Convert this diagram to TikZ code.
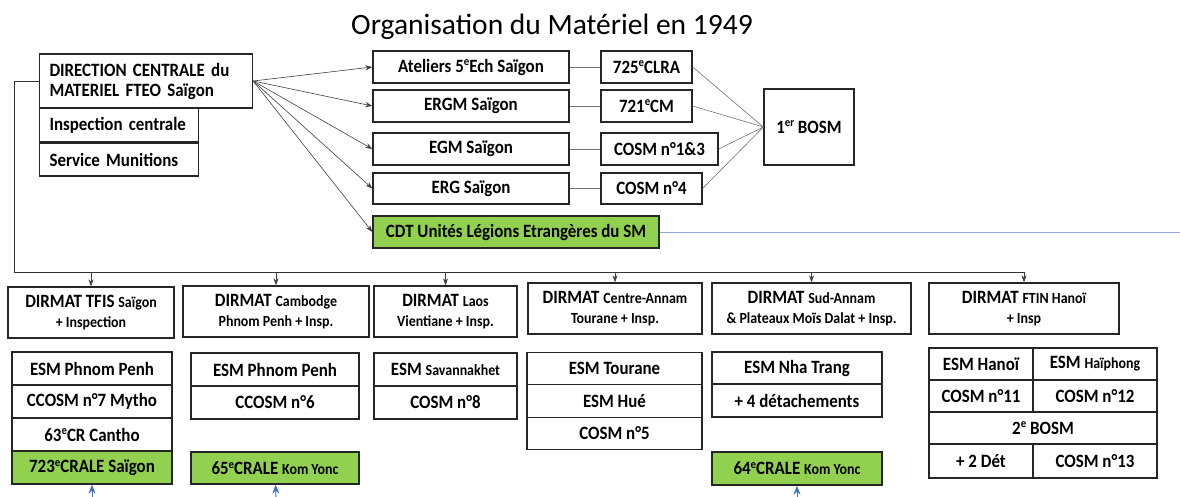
\documentclass[tikz,border=0pt]{standalone}
\usepackage{fontspec}
\setmainfont{Carlito}
\newfontfamily\boxfont[FakeStretch=0.9]{Carlito}
\usetikzlibrary{arrows.meta}
\definecolor{legiongreen}{HTML}{92D050}
\definecolor{legionline}{HTML}{8FAADC}
\definecolor{upblue}{HTML}{4472C4}
\newcommand{\petit}[1]{{\fontsize{15.5}{17}\selectfont #1}}
\newcommand{\expo}[1]{\raisebox{0.33em}{\fontsize{12}{12}\selectfont #1}}
\tikzset{box/.style={draw=black!85, line width=1.3pt, inner sep=0pt, align=center,
                     font=\boxfont\bfseries\fontsize{18.8}{20}\selectfont},
         crale/.style={box, fill=legiongreen},
         wh/.style 2 args={minimum width=#1, minimum height=#2},
         feed/.style={draw=black!75, line width=0.6pt, -{Stealth[length=7pt,width=5pt]}},
         link/.style={draw=black!55, line width=0.6pt},
         upfeed/.style={draw=upblue, line width=1pt, -{Stealth[length=9pt,width=7pt]}}}

\begin{document}
\begin{tikzpicture}[x=1pt,y=-1pt]
   \useasboundingbox (0,0) rectangle (1180,497);
   \node[anchor=base, font=\fontsize{29.5}{32}\selectfont] (title) at (552,35) {Organisation du Matériel en 1949};

   % direction centrale
   \node[box, wh={213}{54}, text width=193, inner xsep=10, align=left] (dcm) at (146,81) {DIRECTION CENTRALE du\\MATERIEL FTEO Saïgon};
   \node[box, wh={159}{34}, text width=139, inner xsep=10, align=left] (insp) at (119,125) {Inspection centrale};
   \node[box, wh={159}{33}, text width=139, inner xsep=10, align=left] (mun) at (119,159.5) {Service Munitions};

   % etablissements de Saigon
   \node[box, wh={196}{32}] (atel) at (471,67) {Ateliers 5\expo{e}Ech Saïgon};
   \node[box, wh={196}{32}] (ergm) at (471,106) {ERGM Saïgon};
   \node[box, wh={196}{32}] (egm) at (471,149) {EGM Saïgon};
   \node[box, wh={196}{31}] (erg) at (471,188.5) {ERG Saïgon};
   \node[crale, wh={286}{32}] (cdt) at (516,232) {CDT Unités Légions Etrangères du SM};
   \node[box, wh={91}{32}] (clra) at (646.5,67) {725\expo{e}CLRA};
   \node[box, wh={91}{32}] (cm) at (646.5,106) {721\expo{e}CM};
   \node[box, wh={117}{32}] (cosmA) at (659.5,149) {COSM n°1\&3};
   \node[box, wh={101}{31}] (cosmB) at (651.5,188.5) {COSM n°4};
   \node[box, wh={90}{76}] (bosm) at (809,127) {1\expo{er} BOSM};

   \foreach \n in {atel,ergm,egm,erg,cdt}
     \draw[feed] (dcm.east) -- (\n.west);
   \draw[link] (atel) -- (clra);
   \draw[link] (ergm) -- (cm);
   \draw[link] (egm) -- (cosmA);
   \draw[link] (erg) -- (cosmB);
   \foreach \n in {clra,cm,cosmA,cosmB}
     \draw[link] (\n.east) -- (bosm.west);
   \coordinate (edge) at (1180,232);
   \draw[legionline, line width=0.8pt] (cdt) -- (edge);

   % directions territoriales
   \node[box, wh={166}{51}] (tfis) at (91,312.5) {DIRMAT TFIS \petit{Saïgon}\\\petit{+ Inspection}};
   \node[box, wh={186}{51}] (camb) at (276,311.5) {DIRMAT \petit{Cambodge}\\\petit{Phnom Penh + Insp.}};
   \node[box, wh={143}{51}] (laos) at (445.5,311.5) {DIRMAT \petit{Laos}\\\petit{Vientiane + Insp.}};
   \node[box, wh={174}{51}] (centre) at (615,308.5) {DIRMAT \petit{Centre-Annam}\\\petit{Tourane + Insp.}};
   \node[box, wh={199}{51}] (sud) at (811.5,308.5) {DIRMAT \petit{Sud-Annam}\\\petit{\& Plateaux Moïs Dalat + Insp.}};
   \node[box, wh={190}{51}] (ftin) at (1024,308.5) {DIRMAT \petit{FTIN Hanoï}\\\petit{+ Insp}};

   \coordinate (busL) at (14,272);
   \draw[draw=black!80, line width=0.9pt] (dcm.west) -| (busL) -- (busL -| ftin.north);
   \foreach \n in {tfis,camb,laos,centre,sud,ftin}
     \draw[feed] (busL -| \n.north) -- (\n.north);

   % TFIS
   \node[box, wh={160}{33}] (esmA) at (92,368.5) {ESM Phnom Penh};
   \node[box, wh={160}{33}] (ccosmA) at (92,401.5) {CCOSM n°7 Mytho};
   \node[box, wh={160}{33}] (crA) at (92,434.5) {63\expo{e}CR Cantho};
   \node[crale, wh={160}{33}] (craleA) at (92,467.5) {723\expo{e}CRALE Saïgon};
   % Cambodge
   \node[box, wh={168}{33}] (esmB) at (275,369.5) {ESM Phnom Penh};
   \node[box, wh={168}{33}] (ccosmB) at (275,402.5) {CCOSM n°6};
   \node[crale, wh={168}{32}] (craleB) at (275,468) {65\expo{e}CRALE \petit{Kom Yonc}};
   % Laos
   \node[box, wh={143}{33}] (esmC) at (445.5,369.5) {ESM \petit{Savannakhet}};
   \node[box, wh={143}{33}] (cosmC) at (445.5,402.5) {COSM n°8};
   % Centre-Annam
   \node[box, wh={175}{32.5}] (esmD) at (614.5,368.5) {ESM Tourane};
   \node[box, wh={175}{32.5}] (hueD) at (614.5,401) {ESM Hué};
   \node[box, wh={175}{32.5}] (cosmD) at (614.5,433.5) {COSM n°5};
   % Sud-Annam
   \node[box, wh={170}{32}] (esmE) at (797,368) {ESM Nha Trang};
   \node[box, wh={170}{33}] (detE) at (797,400.5) {+ 4 détachements};
   \node[crale, wh={170}{33}] (craleE) at (797,468.5) {64\expo{e}CRALE \petit{Kom Yonc}};
   % FTIN
   \node[box, wh={104}{32}] (hanoi) at (981,364) {ESM Hanoï};
   \node[box, wh={124}{32}] (haiph) at (1095,364) {ESM \petit{Haïphong}};
   \node[box, wh={104}{32}] (cosmF) at (981,396) {COSM n°11};
   \node[box, wh={124}{32}] (cosmG) at (1095,396) {COSM n°12};
   \node[box, wh={228}{32}] (bosmF) at (1043,428) {2\expo{e} BOSM};
   \node[box, wh={104}{34}] (detF) at (981,461) {+ 2 Dét};
   \node[box, wh={124}{34}] (cosmH) at (1095,461) {COSM n°13};

   % arrivees legion
   \coordinate (inA) at (92,497);
   \coordinate (inB) at (276,497);
   \coordinate (inE) at (797,497);
   \draw[upfeed] (inA) -- (craleA);
   \draw[upfeed] (inB) -- (craleB);
   \draw[upfeed] (inE) -- (craleE);
\end{tikzpicture}
\end{document}
